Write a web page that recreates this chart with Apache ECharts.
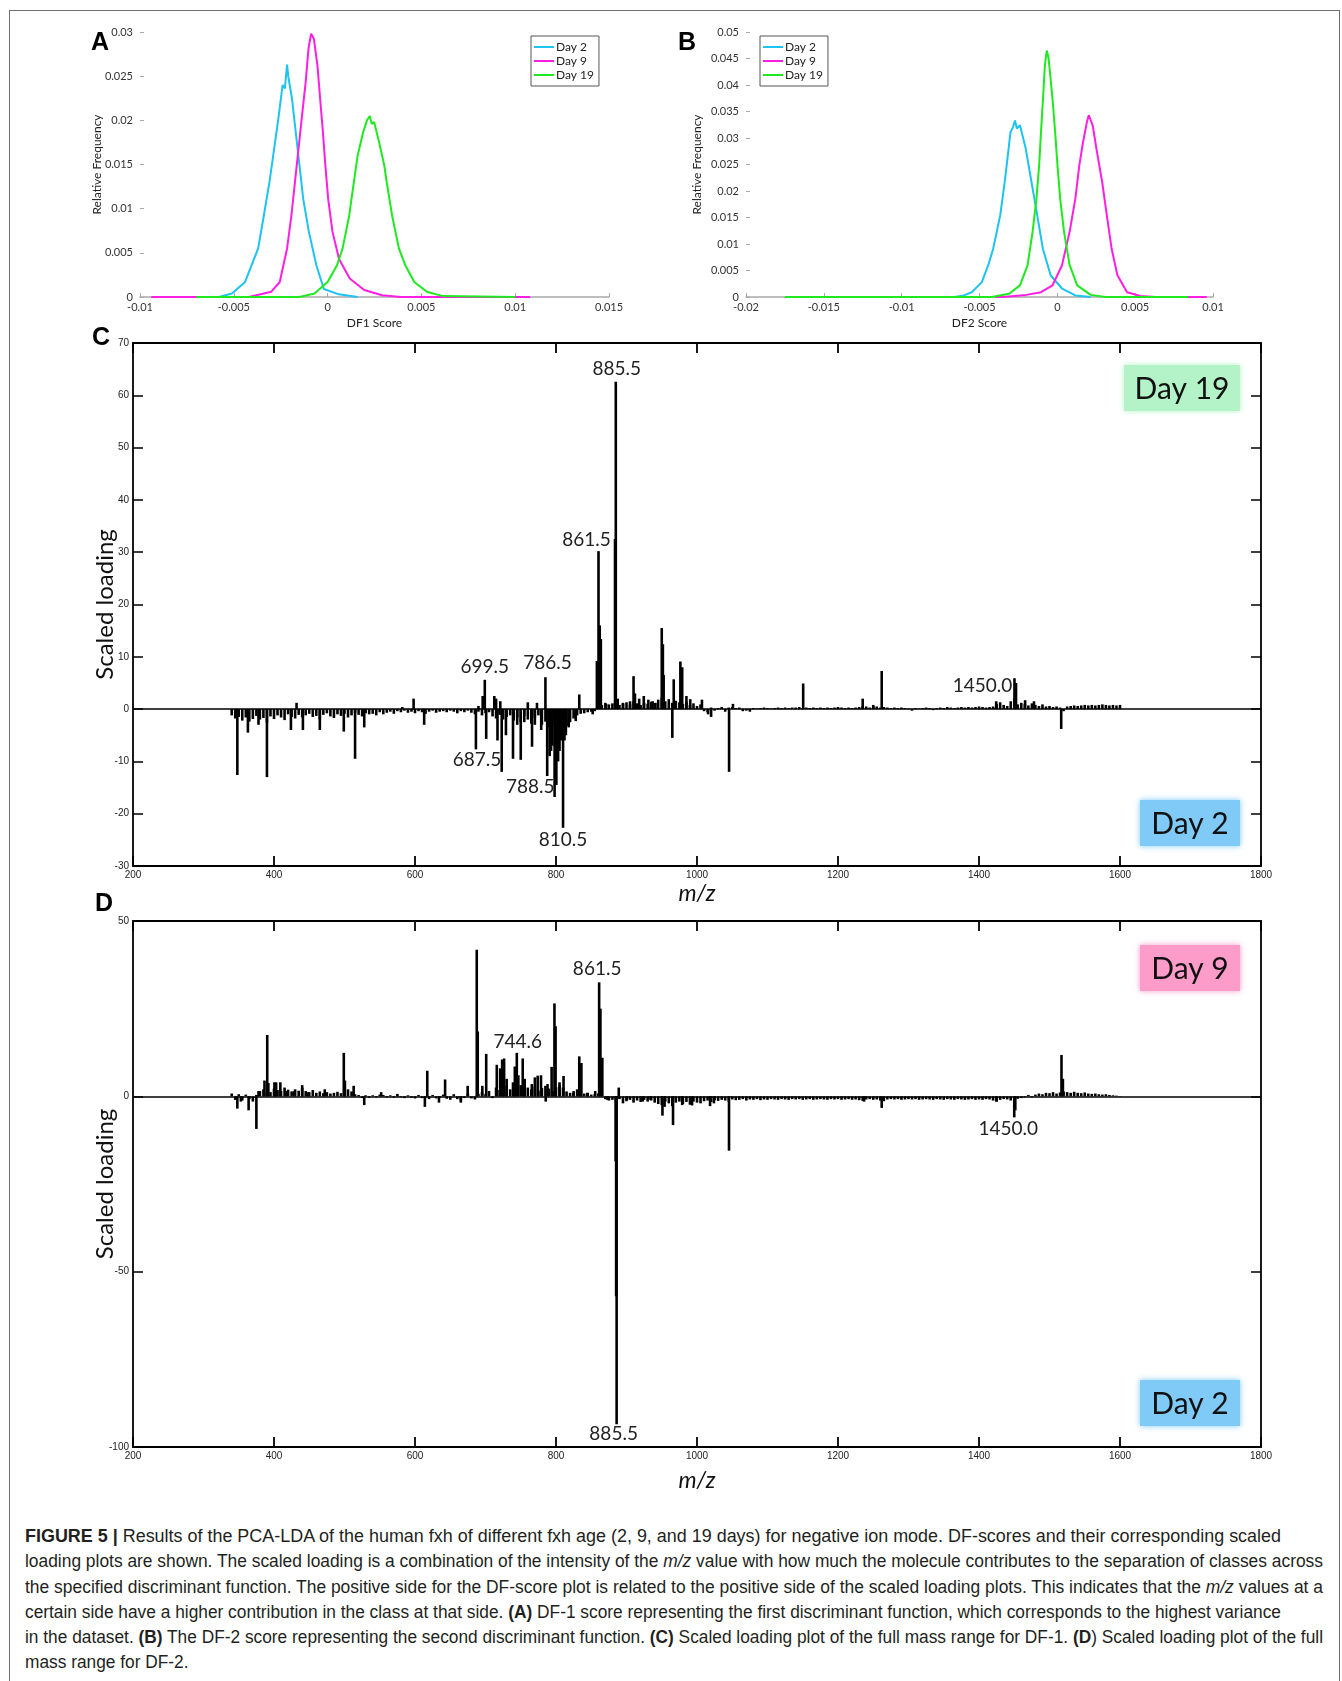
<!DOCTYPE html>
<html>
<head>
<meta charset="utf-8">
<title>Figure 5</title>
<script src="https://cdn.jsdelivr.net/npm/echarts@6/dist/echarts.min.js"></script>
<style>
  html, body { margin: 0; padding: 0; background: #fff; }
  #frame { position: absolute; left: 9px; top: 10px; width: 1331px; height: 1700px; border: 1.5px solid #6e6e6e; box-sizing: border-box; }
  #chart { position: absolute; left: 0; top: 0; width: 1342px; height: 1500px; }
  #caption { position: absolute; left: 25px; top: 1524px; font-family: 'Liberation Sans', Arial, sans-serif; font-size: 17.5px; color: #231f20; }
  .ln { height: 25.3px; line-height: 25.3px; white-space: nowrap; transform-origin: 0 50%; }
</style>
</head>
<body>
<div id="frame"></div>
<div id="chart"></div>
<div id="caption">
  <div class="ln" data-w="1256"><b>FIGURE 5 |</b> Results of the PCA-LDA of the human fxh of different fxh age (2, 9, and 19 days) for negative ion mode. DF-scores and their corresponding scaled</div>
  <div class="ln" data-w="1298">loading plots are shown. The scaled loading is a combination of the intensity of the <i>m/z</i> value with how much the molecule contributes to the separation of classes across</div>
  <div class="ln" data-w="1298">the specified discriminant function. The positive side for the DF-score plot is related to the positive side of the scaled loading plots. This indicates that the <i>m/z</i> values at a</div>
  <div class="ln" data-w="1256">certain side have a higher contribution in the class at that side. <b>(A)</b> DF-1 score representing the first discriminant function, which corresponds to the highest variance</div>
  <div class="ln" data-w="1298">in the dataset. <b>(B)</b> The DF-2 score representing the second discriminant function. <b>(C)</b> Scaled loading plot of the full mass range for DF-1. <b>(D</b>) Scaled loading plot of the full</div>
  <div class="ln">mass range for DF-2.</div>
</div>
<script>
// ---- data ----
const dayNames = ['Day 2', 'Day 9', 'Day 19'];

// DF1 score distributions  [score, relative frequency]
const df1Day2 = [[-0.0058, 0], [-0.0051, 0.0004], [-0.0044, 0.0017], [-0.0037, 0.0055], [-0.0034, 0.0092], [-0.0031, 0.013], [-0.0029, 0.016], [-0.0026, 0.0206], [-0.0024, 0.024], [-0.00228, 0.0236], [-0.00216, 0.0263], [-0.0021, 0.025], [-0.0019, 0.0225], [-0.0017, 0.0187], [-0.0015, 0.0149], [-0.0013, 0.0111], [-0.001, 0.0074], [-0.0006, 0.0036], [-0.0002, 0.0009], [0.0006, 0.0003], [0.0016, 0]];
const df1Day9 = [[-0.0094, 0], [-0.0042, 0], [-0.003, 0.0006], [-0.00255, 0.0017], [-0.00216, 0.0055], [-0.00193, 0.0092], [-0.00174, 0.013], [-0.00155, 0.0168], [-0.00136, 0.0206], [-0.00117, 0.0243], [-0.00102, 0.0281], [-0.00088, 0.0298], [-0.00073, 0.0292], [-0.00054, 0.0262], [-0.0004, 0.0225], [-0.00025, 0.0187], [-0.00012, 0.0149], [0.00003, 0.0111], [0.00026, 0.0074], [0.00061, 0.0043], [0.00118, 0.0021], [0.00195, 0.0008], [0.0029, 0.0002], [0.0039, 0], [0.0108, 0]];
const df1Day19 = [[-0.007, 0], [-0.0015, 0], [-0.0007, 0.0004], [0, 0.0017], [0.0005, 0.0036], [0.0008, 0.0055], [0.00115, 0.0092], [0.0014, 0.013], [0.0016, 0.016], [0.0019, 0.0187], [0.0021, 0.02], [0.00225, 0.0205], [0.00235, 0.0196], [0.00248, 0.0198], [0.00275, 0.0175], [0.00302, 0.0149], [0.00315, 0.013], [0.00344, 0.0092], [0.0038, 0.0055], [0.00414, 0.0036], [0.00462, 0.0017], [0.00529, 0.0006], [0.00615, 0.0001], [0.01, 0]];

// DF2 score distributions
const df2Day2 = [[-0.0066, 0], [-0.006, 0.0003], [-0.0055, 0.0009], [-0.00485, 0.0028], [-0.00444, 0.006], [-0.00412, 0.0091], [-0.00367, 0.0154], [-0.00338, 0.0217], [-0.00313, 0.028], [-0.00301, 0.0311], [-0.00285, 0.032], [-0.00272, 0.0333], [-0.0026, 0.0318], [-0.0024, 0.0324], [-0.00203, 0.028], [-0.00166, 0.0217], [-0.00129, 0.0154], [-0.00093, 0.0091], [-0.00043, 0.0041], [0.0003, 0.0016], [0.00116, 0.0003], [0.00214, 0]];
const df2Day9 = [[-0.004, 0], [-0.0035, 0], [-0.002, 0.0004], [-0.00105, 0.0009], [-0.00031, 0.0022], [0.0003, 0.006], [0.00079, 0.0123], [0.00116, 0.0186], [0.00141, 0.0248], [0.00165, 0.0292], [0.0019, 0.033], [0.00202, 0.0343], [0.00227, 0.0324], [0.00251, 0.028], [0.00288, 0.0217], [0.00318, 0.0154], [0.00349, 0.0091], [0.00386, 0.0041], [0.00448, 0.0009], [0.00534, 0.0002], [0.0063, 0], [0.0096, 0]];
const df2Day19 = [[-0.0175, 0], [-0.0042, 0], [-0.0031, 0.0006], [-0.0024, 0.0022], [-0.00191, 0.006], [-0.00159, 0.0123], [-0.00134, 0.0186], [-0.00117, 0.0248], [-0.00105, 0.0311], [-0.00092, 0.0374], [-0.0008, 0.0437], [-0.00068, 0.0465], [-0.00056, 0.045], [-0.00031, 0.0374], [-0.00014, 0.0311], [0.00001, 0.0248], [0.00018, 0.0186], [0.00043, 0.0123], [0.00079, 0.006], [0.00128, 0.0022], [0.00214, 0.0004], [0.0031, 0], [0.0084, 0]];

// scaled loading spectra: baseline sampled every 5 m/z from 340 to 1600
const BASE_START = 340, BASE_STEP = 5;
const df1Baseline = [
  -1.2, -1.8, -1.5, -2.2, -1.6, -2.4, -1.9, -1.3, -2.0, -1.7, -2.6, -1.4, -1.9, -1.2, -1.6, -2.1, -1.0, -1.5, -1.8, -1.1,
  -1.6, -1.2, -0.9, -1.5, -1.3, -2.0, -1.1, -0.8, -1.4, -1.7, -1.0, -1.3, -0.9, -1.6, -1.2, -0.7, -1.1, -1.4, -0.8, -1.0,
  -0.9, -1.2, -0.6, -1.0, -0.7, -0.5, -0.9, -0.4, -0.6, -0.3, -0.7, -0.5, -0.8, -0.4, -0.6, -0.9, -0.5, -0.3, -0.7, -0.5,
  -0.4, -0.6, -0.3, -0.5, -0.8, -0.4, -0.6, -0.3, -0.7, -1.0, -0.5, -1.2, -0.8, -0.6, -1.4, -1.8, -1.1, -2.0, -1.5, -1.2,
  -2.2, -1.6, -2.5, -1.3, -2.0, -2.8, -1.7, -1.2, -3.0, -2.4, -3.5, -2.9, -4.0, -3.6, -4.5, -3.2, -2.5, -1.8, -1.2, -0.9,
  -0.8, -0.6, -0.5, -0.4, 0.3, 0.8, 1.2, 0.9, 1.1, 1.4, 0.8, 1.0, 1.3, 0.9, 1.5, 1.1, 0.8, 1.2, 1.0, 1.4,
  1.2, 1.8, 2.2, 1.5, 1.9, 1.2, 1.6, 1.3, 1.0, 1.4, 0.8, 1.1, 0.6, 0.9, -0.4, -0.6, 0.3, -0.3, 0.2, 0.4,
  -0.5, 0.3, 0.4, 0.2, 0.3, -0.4, -0.3, -0.5, 0.2, 0.1, 0.2, 0.3, 0.2, 0.1, 0.2, 0.3, 0.2, 0.3, 0.2, 0.3,
  0.3, 0.4, 0.2, 0.3, 0.2, 0.3, 0.2, 0.3, 0.2, 0.3, 0.2, 0.3, 0.4, 0.3, 0.2, 0.3, 0.2, 0.3, 0.4, 0.6,
  0.5, 0.3, 0.6, 0.5, 0.3, 0.4, 0.3, 0.2, 0.3, 0.2, 0.3, 0.2, 0.1, -0.3, 0.2, 0.1, 0.2, 0.3, 0.2, -0.2,
  0.2, 0.3, 0.2, 0.4, 0.3, 0.2, 0.3, 0.4, 0.3, 0.4, 0.3, 0.4, 0.5, 0.4, 0.3, 0.4, 0.5, 1.0, 1.3, 0.8,
  0.6, 1.5, 2.0, 0.9, 1.2, 1.0, 0.7, 1.1, 0.8, 0.6, 0.9, 0.5, 0.6, 0.4, 0.5, 0.3, -0.4, 0.5, 0.6, 0.7,
  0.6, 0.7, 0.8, 0.7, 0.8, 0.7, 0.8, 0.9, 0.8, 0.7, 0.8, 0.7, 0.8
];
const df1Peaks = [[348, -12.6], [363, -4.5], [378, -3], [390, -13], [424, -4], [432, 1.2], [441, -4], [465, -4], [499, -4.3], [515, -9.5], [528, -3.5], [582, 0.4], [598, 2], [613, -3],
  [686.4, -7.7], [690, 0.6], [696, 2.5], [699, 5.6], [701, -5.7], [712.5, 2.5], [715, 2], [717, -6], [721, 1.5], [723, -12], [729, -5], [739, -9.5], [745, -3], [750, -9.7], [755, -2.5],
  [760, 1.3], [766, -7.2], [770, -3], [773, 1.2], [779, -4], [785, 6.1], [787.5, -12.8], [791, -9], [793, -8], [795, -7], [798, -16.8], [800.5, -14.5], [803, -10], [805, -8], [807, -6],
  [810, -22.7], [812, -6], [814, -5], [818, -3.5], [828, -2.3], [833, 2.8], [852, -1], [858, 9.2], [860.3, 30.2], [862, 16], [863.6, 13.4], [871, 1], [883.7, 32.5], [884.8, 62.6],
  [887.5, 2], [895, 1.2], [905, 1.5], [910, 6.3], [912, 3], [918, 2], [924.5, 2.5], [931, 1.8], [937, 1.5], [944, 1.2], [950, 15.5], [951.6, 12.4], [952.7, 6.5], [965, -5.5], [967, 5.7],
  [976.4, 9.1], [979, 8], [985, 2.5], [990.4, 1.9], [1007, 1.8], [1015.7, -1], [1020, -1.5], [1045.5, -12], [1051, 1], [1150.6, 4.9], [1235, 2], [1250, 0.8], [1262, 7.3],
  [1424.4, 1.5], [1450.3, 5.9], [1452.5, 5], [1465.4, 1.7], [1478, 1.5], [1516.6, -3.8]];

const df2Baseline = [
  0.8, -1.0, 0.6, -1.2, 0.5, -0.8, -1.5, 0.4, 1.5, 2.0, 1.6, 1.2, 2.2, 1.8, 1.5, 2.5, 1.9, 1.4, 2.0, 1.6,
  2.4, 1.5, 1.2, 1.8, 1.0, 1.4, 0.9, 1.2, 0.8, 1.0, 1.3, 0.9, 1.6, 2.0, 1.4, 0.6, 0.4, -0.5, 0.3, -0.4,
  0.3, -0.3, 0.5, 0.4, -0.3, 0.3, -0.4, 0.2, -0.3, -0.5, 0.3, -0.4, -0.6, 0.4, -0.5, -0.3, -0.8, 0.4, -0.6, -0.4,
  0.5, -0.7, -1.0, 0.6, -0.8, -1.2, -0.5, 0.8, -0.6, -0.9, 0.7, 1.2, 0.6, 1.5, -0.5, 2.5, 1.8, 2.2, 3.0, 2.0,
  2.8, 2.2, 3.2, 1.8, 2.5, 2.0, 2.8, 1.6, 2.4, 3.0, 2.2, 1.5, 2.6, 3.2, 2.5, 1.4, 1.0, 1.5, 2.0, 1.2,
  0.8, 1.0, 0.5, 0.6, 0.8, 0.7, -0.8, -1.2, -1.0, -1.5, -0.8, -2.0, -1.4, -1.0, -1.8, -1.2, -1.6, -1.0, -1.5, -1.2,
  -1.8, -2.2, -2.5, -1.5, -2.0, -2.8, -1.8, -1.5, -2.2, -1.6, -2.4, -1.5, -1.8, -2.0, -1.4, -1.2, -1.6, -1.1, -1.3, -1.0,
  -1.2, -1.5, -0.9, -1.1, -1.0, -0.8, -1.2, -0.9, -1.0, -0.8, -1.1, -0.9, -1.0, -0.8, -0.9, -1.0, -0.8, -0.9, -1.0, -0.8,
  -0.9, -0.8, -1.0, -0.9, -0.8, -1.0, -0.9, -0.8, -0.9, -1.0, -0.8, -0.9, -0.8, -1.0, -0.9, -0.8, -1.0, -0.9, -1.1, -1.3,
  -0.9, -0.8, -1.0, -0.9, -1.2, -1.4, -0.9, -0.8, -0.9, -0.8, -1.0, -0.9, -0.8, -0.9, -0.8, -1.0, -0.9, -0.8, -0.9, -1.0,
  -0.8, -0.9, -1.0, -0.8, -0.9, -1.0, -0.8, -0.9, -1.0, -0.9, -0.8, -1.0, -0.9, -1.0, -0.8, -0.9, -1.2, -1.5, -1.0, -0.8,
  -0.9, -1.2, -1.0, -0.7, -0.5, -0.3, 0.4, -0.3, 0.5, 0.8, 0.6, 1.0, 0.9, 1.2, 0.8, 1.1, 1.4, 1.2, 1.0, 1.3,
  1.0, 0.9, 1.1, 0.8, 0.7, 0.8, 0.6, 0.5, 0.6, 0.4, 0.3, 0.2, 0.1
];
const df2Peaks = [[348, -3.5], [353, -1.5], [364, -4], [375, -9.3], [378, 1.5], [386.5, 4.5], [390.4, 17.5], [392, 3.8], [400.6, 4], [403, 4], [409, 4], [417, 1.5], [428.6, 1.5], [440, 3.2],
  [448, 1.2], [472, 2], [499, 12.4], [500.6, 4.5], [513, 3], [528, -2.5], [552, 1.2], [575, 0.7], [614, -3], [617.4, 7.3], [634, -1.8], [642.7, 4.8], [665, -1.8], [674.7, 3],
  [687.6, 41.8], [689, 18.5], [695.5, 3], [701, 12.1], [716, 9], [720.8, 8], [723.6, 10.5], [726.4, 10.8], [730, 5], [739, 4], [741.6, 8.5], [744.4, 12.4], [746.6, 6], [752.8, 10.8],
  [755.6, 5], [765.7, 3.5], [770, 5.4], [774, 5.9], [778.7, 6], [785.4, -1.5], [788, 3.5], [793.8, 8.4], [797.8, 26.5], [799.4, 20], [805, 4], [810.7, 5.8], [824.7, 1], [833, 11.4],
  [836, 9.5], [844.4, 1], [855.6, 1.5], [861.2, 32.5], [863, 25], [865.7, 11], [872.5, -1], [884.6, -18.5], [885.3, -57], [886, -93.5], [889, 2.5], [900.6, -1], [923, -1.5],
  [934, -1], [951, -5.5], [954, -3], [966, -8.2], [979, -2.5], [993, -2.6], [1018.5, -2.8], [1024, -2], [1045.4, -15.5], [1237, -1.5], [1262, -3.3], [1424.6, -1.5], [1450, -6],
  [1451.5, -4], [1517, 11.8], [1519, 5]];

// annotated peaks
const df1NoteText = ['885.5', '861.5', '699.5', '786.5', '687.5', '788.5', '810.5', '1450.0'];
const df1NoteMz = [884.8, 860.3, 699, 785, 686.4, 787.5, 810, 1450.3];
const df1NoteVal = [62.6, 30.2, 5.6, 6.1, -7.7, -12.8, -22.7, 5.9];
const df2NoteText = ['861.5', '744.6', '885.5', '1450.0'];
const df2NoteMz = [861.2, 744.4, 886, 1450];
const df2NoteVal = [32.5, 12.4, -93.5, -6];

// ---- presentation ----
const curveColors = ['#1ec3f0', '#ff1fe3', '#1fea1f'];
const sans = 'Lato, "Open Sans", sans-serif';
const arial = '"Liberation Sans", Arial, sans-serif';
const df1NoteOffset = [[1, -13], [-12, -11], [0, -13], [2, -14], [1, 11], [-17, 11], [0, 12], [-32, 8]];
const df2NoteOffset = [[-2, -13], [1, -11], [-3, 10], [-6, 12]];
const plain = v => String(v);

const chart = echarts.init(document.getElementById('chart'));

const scoreX = (grid, min, max, name) => ({
  type: 'value', gridIndex: grid, min: min, max: max, interval: 0.005,
  name: name, nameLocation: 'middle', nameGap: 20, nameMoveOverlap: false,
  nameTextStyle: { fontFamily: sans, fontSize: 12, color: '#222' },
  axisLine: { show: true, onZero: false, lineStyle: { color: '#a9a9a9', width: 1.5 } },
  axisTick: { show: true, inside: true, length: 4, lineStyle: { color: '#a9a9a9' } },
  axisLabel: { fontFamily: sans, fontSize: 11, color: '#333', margin: 5, formatter: plain },
  splitLine: { show: false }
});
const scoreY = (grid, max, gap) => ({
  type: 'value', gridIndex: grid, min: 0, max: max, interval: 0.005,
  name: 'Relative Frequency', nameLocation: 'middle', nameGap: gap, nameMoveOverlap: false,
  nameTextStyle: { fontFamily: sans, fontSize: 12, color: '#222' },
  axisLine: { show: false, onZero: false },
  axisTick: { show: true, inside: true, length: 4, lineStyle: { color: '#a9a9a9' } },
  axisLabel: { fontFamily: sans, fontSize: 11, color: '#333', margin: 7, formatter: plain },
  splitLine: { show: false }
});
const loadX = (grid, pos, gap) => ({
  type: 'value', gridIndex: grid, position: pos, min: 200, max: 1800, interval: 200,
  name: pos === 'bottom' ? 'm/z' : '', nameLocation: 'middle', nameGap: gap, nameMoveOverlap: false,
  nameTextStyle: { fontFamily: sans, fontStyle: 'italic', fontSize: 23, color: '#111' },
  axisLine: { show: true, onZero: false, lineStyle: { color: '#000', width: 1.8 } },
  axisTick: { show: true, inside: true, length: 10, lineStyle: { color: '#000', width: 1.8 } },
  axisLabel: { show: pos === 'bottom', fontFamily: arial, fontSize: 10, color: '#222', margin: 4, formatter: plain },
  splitLine: { show: false }
});
const loadY = (grid, pos, min, max, interval) => ({
  type: 'value', gridIndex: grid, position: pos, min: min, max: max, interval: interval,
  name: pos === 'left' ? 'Scaled loading' : '', nameLocation: 'middle', nameGap: 16, nameMoveOverlap: false,
  nameTextStyle: { fontFamily: sans, fontSize: 24, color: '#111' },
  axisLine: { show: true, onZero: false, lineStyle: { color: '#000', width: 1.8 } },
  axisTick: { show: true, inside: true, length: 10, lineStyle: { color: '#000', width: 1.5 } },
  axisLabel: { show: pos === 'left', fontFamily: arial, fontSize: 10, color: '#222', margin: 4, formatter: plain },
  splitLine: { show: false }
});

const curve = (name, data, idx, axis) => ({
  name: name, type: 'line', data: data, xAxisIndex: axis, yAxisIndex: axis,
  symbol: 'none', showSymbol: false, silent: true,
  lineStyle: { color: curveColors[idx], width: 2 }, itemStyle: { color: curveColors[idx] }
});

const spectrum = (baseline, peaks, xAxis, yAxis, texts, mzs, vals, offsets) => ({
  type: 'bar', xAxisIndex: xAxis, yAxisIndex: yAxis, barWidth: 2.6, silent: true,
  itemStyle: { color: '#000' },
  data: baseline.map((v, i) => [BASE_START + i * BASE_STEP, v]).concat(peaks),
  markLine: {
    silent: true, symbol: ['none', 'none'], label: { show: false },
    lineStyle: { color: '#000', width: 1.5, type: 'solid' },
    data: [{ yAxis: 0 }]
  },
  markPoint: {
    silent: true, symbol: 'rect', symbolSize: 0,
    label: { show: true, formatter: '{b}', fontFamily: sans, fontSize: 19, color: '#222' },
    data: texts.map((t, i) => ({ name: t, coord: [mzs[i], vals[i]], label: { offset: offsets[i] } }))
  }
});

const panelLetter = (t, x, y) => ({
  type: 'text', x: x, y: y, silent: true,
  style: { text: t, fill: '#000', font: 'bold 25px "Liberation Sans", Arial, sans-serif', align: 'center', verticalAlign: 'middle' }
});
const dayBox = (t, x, y, w, h, color) => ({
  type: 'group', silent: true,
  children: [
    { type: 'rect', shape: { x: x, y: y, width: w, height: h }, style: { fill: color, shadowBlur: 6, shadowColor: color } },
    { type: 'text', x: x + w / 2, y: y + h / 2 + 1, style: { text: t, fill: '#111', font: '30px Lato, sans-serif', align: 'center', verticalAlign: 'middle' } }
  ]
});

const legendBox = (left) => ({
  data: dayNames.map(n => ({ name: n, icon: 'rect' })), orient: 'vertical', left: left, top: 36,
  itemWidth: 20, itemHeight: 2, itemGap: 0, padding: [4, 5, 4, 3],
  borderColor: '#555', borderWidth: 1, backgroundColor: '#fff', selectedMode: false,
  textStyle: { fontFamily: sans, fontSize: 12, lineHeight: 14, color: '#222', padding: [0, 0, 0, -3] }
});

chart.setOption({
  animation: false,
  backgroundColor: 'transparent',
  legend: [legendBox(531), legendBox(760)],
  grid: [
    { left: 140, top: 32, width: 469, height: 265, outerBoundsMode: 'none' },
    { left: 746, top: 32, width: 467, height: 265, outerBoundsMode: 'none' },
    { left: 133, top: 343, width: 1128, height: 523, outerBoundsMode: 'none' },
    { left: 133, top: 921, width: 1128, height: 526, outerBoundsMode: 'none' }
  ],
  xAxis: [
    scoreX(0, -0.01, 0.015, 'DF1 Score'),
    scoreX(1, -0.02, 0.01, 'DF2 Score'),
    loadX(2, 'bottom', 16), loadX(2, 'top', 16),
    loadX(3, 'bottom', 22), loadX(3, 'top', 22)
  ],
  yAxis: [
    scoreY(0, 0.03, 37),
    scoreY(1, 0.05, 43),
    loadY(2, 'left', -30, 70, 10), loadY(2, 'right', -30, 70, 10),
    loadY(3, 'left', -100, 50, 50), loadY(3, 'right', -100, 50, 50)
  ],
  series: [
    curve(dayNames[0], df1Day2, 0, 0),
    curve(dayNames[1], df1Day9, 1, 0),
    curve(dayNames[2], df1Day19, 2, 0),
    curve(dayNames[0], df2Day2, 0, 1),
    curve(dayNames[1], df2Day9, 1, 1),
    curve(dayNames[2], df2Day19, 2, 1),
    spectrum(df1Baseline, df1Peaks, 2, 2, df1NoteText, df1NoteMz, df1NoteVal, df1NoteOffset),
    spectrum(df2Baseline, df2Peaks, 4, 4, df2NoteText, df2NoteMz, df2NoteVal, df2NoteOffset)
  ],
  graphic: [
    panelLetter('A', 100, 43),
    panelLetter('B', 687, 43),
    panelLetter('C', 101, 338),
    panelLetter('D', 104, 904),
    dayBox('Day 19', 1124, 365, 116, 46, '#b3f3c7'),
    dayBox('Day 2', 1140, 800, 100, 46, '#7fcaf7'),
    dayBox('Day 9', 1140, 945, 100, 46, '#fd9bc9'),
    dayBox('Day 2', 1140, 1380, 100, 46, '#7fcaf7')
  ]
});

// squeeze each caption line horizontally to the width of the printed line
let lastScale = 1;
document.querySelectorAll('#caption .ln').forEach(function (el) {
  el.style.display = 'inline-block';
  const natural = el.getBoundingClientRect().width;
  el.style.display = 'block';
  if (el.dataset.w) lastScale = (+el.dataset.w) / natural;
  el.style.transform = 'scaleX(' + lastScale + ')';
});
</script>
</body>
</html>
